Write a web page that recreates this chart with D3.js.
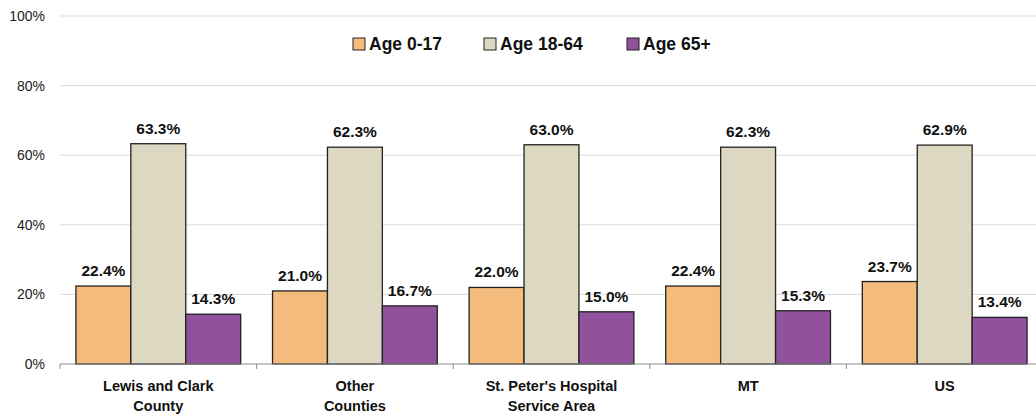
<!DOCTYPE html>
<html>
<head>
<meta charset="utf-8">
<script src="https://cdn.jsdelivr.net/npm/d3@7"></script>
<style>
  body { margin: 0; background: #fff; }
  svg { font-family: "Liberation Sans", Arial, sans-serif; }
</style>
</head>
<body>
<svg id="chart" width="1036" height="417"></svg>
<script>
const categories = [["Lewis and Clark", "County"], ["Other", "Counties"], ["St. Peter's Hospital", "Service Area"], ["MT"], ["US"]];
const seriesNames = ["Age 0-17", "Age 18-64", "Age 65+"];
const age0to17 = [22.4, 21.0, 22.0, 22.4, 23.7];
const age18to64 = [63.3, 62.3, 63.0, 62.3, 62.9];
const age65plus = [14.3, 16.7, 15.0, 15.3, 13.4];
const yTicks = [0, 20, 40, 60, 80, 100];
const colors = ["#f4bc7c", "#ddd8c2", "#91519c"];

const series = [age0to17, age18to64, age65plus];
const data = categories.map((c, i) => ({
  key: c.join(" "),
  lines: c,
  values: series.map((s, j) => ({ name: seriesNames[j], value: s[i] }))
}));

const svg = d3.select("#chart"),
      margin = { top: 16, right: -7, bottom: 53, left: 60 },
      width = +svg.attr("width"),
      height = +svg.attr("height");

const x0 = d3.scaleBand()
  .domain(data.map(d => d.key))
  .range([margin.left, width - margin.right])
  .paddingInner(0)
  .paddingOuter(0);

const x1 = d3.scaleBand()
  .domain(seriesNames)
  .range([0, x0.bandwidth()])
  .paddingOuter(0.29)
  .paddingInner(0);

const y = d3.scaleLinear()
  .domain([0, 100])
  .range([height - margin.bottom, margin.top]);

// gridlines
svg.append("g")
  .selectAll("line")
  .data(yTicks.filter(t => t > 0))
  .enter().append("line")
  .attr("x1", margin.left)
  .attr("x2", width)
  .attr("y1", d => y(d))
  .attr("y2", d => y(d))
  .attr("stroke", "#d9d9d9")
  .attr("stroke-width", 1);

// y labels
svg.append("g")
  .selectAll("text")
  .data(yTicks)
  .enter().append("text")
  .attr("x", 45)
  .attr("y", d => y(d))
  .attr("dy", "0.35em")
  .attr("text-anchor", "end")
  .attr("font-size", "14px")
  .attr("fill", "#222")
  .text(d => d + "%");

// bars
const groups = svg.append("g")
  .selectAll("g")
  .data(data)
  .enter().append("g")
  .attr("transform", d => `translate(${x0(d.key)},0)`);

groups.selectAll("rect")
  .data(d => d.values)
  .enter().append("rect")
  .attr("x", d => x1(d.name))
  .attr("y", d => y(d.value))
  .attr("width", x1.bandwidth())
  .attr("height", d => y(0) - y(d.value))
  .attr("fill", (d, i) => colors[i])
  .attr("stroke", "#222")
  .attr("stroke-width", 1.3);

groups.selectAll("text")
  .data(d => d.values)
  .enter().append("text")
  .attr("x", d => x1(d.name) + x1.bandwidth() / 2)
  .attr("y", d => y(d.value) - 10)
  .attr("text-anchor", "middle")
  .attr("font-size", "15.5px")
  .attr("font-weight", "bold")
  .attr("fill", "#111")
  .text(d => d.value.toFixed(1) + "%");

// x axis
const xAxis = svg.append("g");
xAxis.append("line")
  .attr("x1", margin.left)
  .attr("x2", width)
  .attr("y1", y(0))
  .attr("y2", y(0))
  .attr("stroke", "#8c8c8c")
  .attr("stroke-width", 1.2);

xAxis.selectAll("line.tick")
  .data(data)
  .enter().append("line")
  .attr("class", "tick")
  .attr("x1", d => x0(d.key))
  .attr("x2", d => x0(d.key))
  .attr("y1", y(0))
  .attr("y2", y(0) + 5)
  .attr("stroke", "#8c8c8c");

const catLabels = xAxis.selectAll("text")
  .data(data)
  .enter().append("text")
  .attr("x", d => x0(d.key) + x0.bandwidth() / 2)
  .attr("y", y(0) + 27)
  .attr("text-anchor", "middle")
  .attr("font-size", "14.5px")
  .attr("font-weight", "bold")
  .attr("fill", "#111");

catLabels.each(function(d) {
  const t = d3.select(this);
  d.lines.forEach((line, i) => {
    t.append("tspan")
      .attr("x", x0(d.key) + x0.bandwidth() / 2)
      .attr("dy", i === 0 ? 0 : 20)
      .text(line);
  });
});

// legend
const legendX = [353, 484, 627];
const legend = svg.append("g");
seriesNames.forEach((name, i) => {
  legend.append("rect")
    .attr("x", legendX[i])
    .attr("y", 38)
    .attr("width", 12)
    .attr("height", 12)
    .attr("fill", colors[i])
    .attr("stroke", "#222")
    .attr("stroke-width", 1);
  legend.append("text")
    .attr("x", legendX[i] + 16)
    .attr("y", 44)
    .attr("dy", "0.35em")
    .attr("font-size", "17.5px")
    .attr("font-weight", "bold")
    .attr("fill", "#111")
    .text(name);
});
</script>
</body>
</html>
